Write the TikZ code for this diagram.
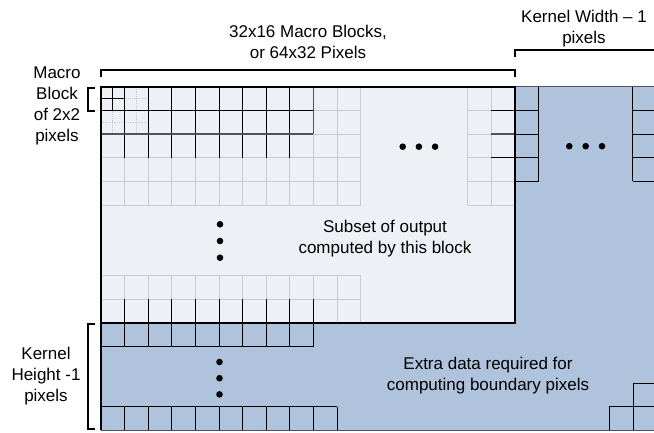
\documentclass[tikz,border=0pt]{standalone}
\usepackage{fontspec}
\setmainfont{Liberation Sans}
\definecolor{lightfill}{RGB}{237,240,245}
\definecolor{bluefill}{RGB}{176,195,220}
\definecolor{gridgray}{RGB}{200,203,208}
\definecolor{edgegray}{RGB}{80,84,90}
\tikzset{
  lbl/.style={align=center, inner sep=0pt, font=\fontsize{17}{21}\selectfont},
  thin grid/.style={draw=gridgray, line width=0.8pt},
  dark/.style={draw=black, line width=1pt},
  darkgray/.style={draw=edgegray, line width=1.6pt},
  bracket/.style={draw=black, line width=2pt},
  dotgrid/.style={draw=gridgray, line width=0.8pt, densely dotted},
  dot/.style={fill=black}
}
\begin{document}
\begin{tikzpicture}[x=1pt,y=-1pt]
\useasboundingbox (0,0) rectangle (654,433);
\def\c{23.6}
% blue region
\fill[bluefill] (101,87) rectangle (654,430);
\draw[edgegray, line width=1pt] (515,87) -- (654,87);
\draw[edgegray, line width=1pt] (101,430) -- (654,430);
% light region
\fill[lightfill] (101,87) rectangle (515,323);
% light grids
\foreach \i in {0,...,11} {
  \draw[thin grid] (101+\i*\c,87) -- (101+\i*\c,205);
  \draw[thin grid] (101+\i*\c,275.8) -- (101+\i*\c,323);
}
\foreach \j in {0,...,5} {
  \draw[thin grid] (101,87+\j*\c) -- (360.6,87+\j*\c);
  \draw[thin grid] (467.8,87+\j*\c) -- (515,87+\j*\c);
}
\draw[thin grid] (101,275.8) -- (360.6,275.8);
\draw[thin grid] (101,299.4) -- (360.6,299.4);
\foreach \x in {467.8,491.4} \draw[thin grid] (\x,87) -- (\x,205);
% dotted sub-divisions
\draw[dotgrid] (136.4,87) -- (136.4,134.2);
\draw[dotgrid] (112.8,110.6) -- (112.8,134.2);
\draw[dotgrid] (124.6,98.8) -- (148.2,98.8);
\draw[dotgrid] (101,122.4) -- (148.2,122.4);
% dark block top-left
\foreach \i in {1,...,8} \draw[dark] (101+\i*\c,87) -- (101+\i*\c,157.8);
\draw[darkgray, line width=1.2pt] (313.4,87) -- (313.4,134.2);
\draw[dark] (101,110.6) -- (313.4,110.6);
\draw[darkgray] (101,134.2) -- (313.4,134.2);
\draw[dark] (112.8,87) -- (112.8,110.6);
\draw[dark] (101,98.8) -- (124.6,98.8);
% dark right of light region
\draw[dark] (491.4,110.6) -- (515,110.6);
\draw[darkgray] (491.4,134.2) -- (515,134.2);
\draw[dark] (491.4,157.8) -- (515,157.8);
% blue cells right of light region
\draw[dark] (538.6,87) -- (538.6,181.4);
\draw[dark] (632.6,87) -- (632.6,181.4);
\foreach \j in {1,...,4} {
  \draw[dark] (515,87+\j*\c) -- (538.6,87+\j*\c);
  \draw[dark] (632.6,87+\j*\c) -- (654,87+\j*\c);
}
% bottom dark cells
\foreach \i in {1,...,9} {
  \draw[dark] (101+\i*\c,299.4) -- (101+\i*\c,346.6);
  \draw[dark] (101+\i*\c,406.6) -- (101+\i*\c,430);
}
\draw[dark] (101,346.6) -- (313.4,346.6);
\draw[dark] (101,406.6) -- (337,406.6);
\draw[dark] (337,406.6) -- (337,430);
% bottom right cells
\draw[dark] (609.4,430) -- (609.4,406.6) -- (654,406.6);
\draw[dark] (633,430) -- (633,383) -- (654,383);
% light region border
\draw[black, line width=1.2pt] (101,430) -- (101,87) -- (515,87) -- (515,323) -- (101,323);
% dots
\foreach \x in {402.7,418.9,435.1} \fill (\x,146.7) circle (3.3);
\foreach \x in {569.3,585.7,602} \fill (\x,146.2) circle (3.3);
\foreach \y in {224.3,241,257.7} \fill (220,\y) circle (3.3);
\foreach \y in {362,378.2,394.4} \fill (219.5,\y) circle (3.3);
% brackets
\draw[bracket] (101,77) -- (101,70) -- (515,70) -- (515,77);
\draw[bracket] (515,57) -- (515,50) -- (655,50);
\draw[bracket] (94.5,88) -- (87.5,88) -- (87.5,111) -- (94.5,111);
\draw[bracket] (94.5,324) -- (88,324) -- (88,429) -- (94.5,429);
% labels
\node[lbl] (top) at (308,42) {32x16 Macro Blocks,\\or 64x32 Pixels};
\node[lbl] (kw) at (584,29) {Kernel Width – 1\\pixels};
\node[lbl] (mb) at (57,106) {Macro\\Block\\of 2x2\\pixels};
\node[lbl] (kh) at (46,376) {Kernel\\Height -1\\pixels};
\node[lbl] (sub) at (385,239) {Subset of output\\computed by this block};
\node[lbl] (extra) at (488,376) {Extra data required for\\computing boundary pixels};
\end{tikzpicture}
\end{document}
